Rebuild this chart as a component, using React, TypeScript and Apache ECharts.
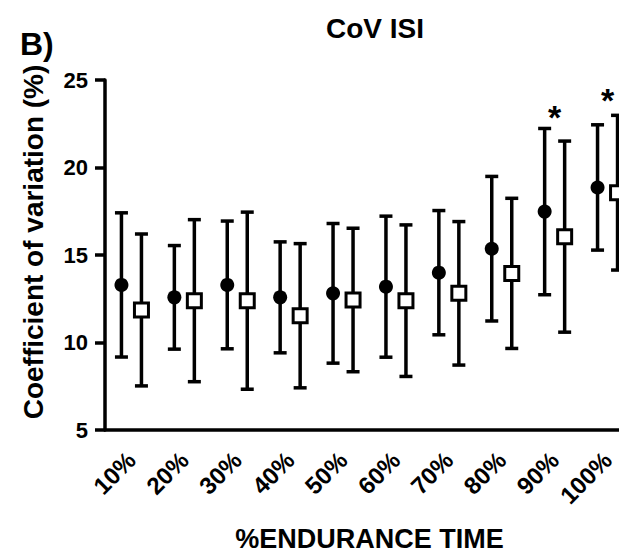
import React, { useEffect, useRef } from "react";
import * as echarts from "echarts";

const categories = ["10%", "20%", "30%", "40%", "50%", "60%", "70%", "80%", "90%", "100%"];
// filled circles: mean and SD
const meanCircle = [13.29, 12.58, 13.29, 12.58, 12.81, 13.19, 13.99, 15.36, 17.48, 18.86];
const sdCircle = [4.12, 2.96, 3.65, 3.17, 3.99, 4.03, 3.55, 4.13, 4.75, 3.58];
// open squares: mean and SD
const meanSquare = [11.86, 12.39, 12.39, 11.53, 12.43, 12.39, 12.81, 13.95, 16.05, 18.56];
const sdSquare = [4.34, 4.63, 5.06, 4.12, 4.1, 4.33, 4.1, 4.29, 5.46, 4.42];
// significance markers
const sigCategories = ["90%", "100%"];
const sigLevels = [23.3, 24.3];
const yTicks = [5, 10, 15, 20, 25];

const FONT = "'Liberation Sans', Arial, Helvetica, sans-serif";

function makeErrorSeries(means: number[], sds: number[], offset: number, kind: "circle" | "square") {
  return {
    type: "custom",
    data: categories.map((_, i) => [i, means[i], sds[i]]),
    encode: { x: 0, y: 1 },
    renderItem: (params: any, api: any) => {
      const idx = api.value(0);
      const m = api.value(1);
      const sd = api.value(2);
      const c = api.coord([idx, m]);
      const t = api.coord([idx, m + sd]);
      const b = api.coord([idx, m - sd]);
      const x = c[0] + offset;
      const lw = 3.5;
      const cap = 6.5;
      const ls = { stroke: "#000", lineWidth: lw };
      const marker =
        kind === "circle"
          ? { type: "circle", shape: { cx: x, cy: c[1], r: 7 }, style: { fill: "#000" } }
          : {
              type: "rect",
              shape: { x: x - 7, y: c[1] - 7, width: 14, height: 14 },
              style: { fill: "#fff", stroke: "#000", lineWidth: 3 },
            };
      return {
        type: "group",
        children: [
          { type: "line", shape: { x1: x, y1: t[1], x2: x, y2: b[1] }, style: ls },
          { type: "line", shape: { x1: x - cap, y1: t[1], x2: x + cap, y2: t[1] }, style: ls },
          { type: "line", shape: { x1: x - cap, y1: b[1], x2: x + cap, y2: b[1] }, style: ls },
          marker,
        ],
      };
    },
    z: kind === "circle" ? 3 : 4,
  };
}

export default function App() {
  const ref = useRef<HTMLDivElement>(null);
  useEffect(() => {
    document.body.style.margin = "0";
    if (!ref.current) return;
    const chart = echarts.init(ref.current, undefined, { renderer: "svg" });
    const option: any = {
      animation: false,
      backgroundColor: "#fff",
      title: {
        text: "CoV ISI",
        left: 370,
        top: 9,
        textAlign: "center",
        textStyle: { fontFamily: FONT, fontSize: 28, fontWeight: "bold", color: "#000" },
      },
      graphic: [
        {
          type: "text",
          left: 20,
          top: 28,
          style: { text: "B)", fontFamily: FONT, fontSize: 32, fontWeight: "bold", fill: "#000" },
        },
      ],
      grid: {
        left: 105,
        right: -15,
        top: 80,
        bottom: 128,
        containLabel: false,
        outerBoundsMode: "none",
      },
      xAxis: {
        type: "category",
        data: categories,
        boundaryGap: true,
        name: "%ENDURANCE TIME",
        nameLocation: "middle",
        nameGap: 95,
        nameTextStyle: { fontFamily: FONT, fontSize: 27, fontWeight: "bold", color: "#000" },
        axisLine: { lineStyle: { color: "#000", width: 3.5 } },
        axisTick: { alignWithLabel: true, length: 9, lineStyle: { color: "#000", width: 3.5 } },
        axisLabel: {
          rotate: 45,
          margin: 26,
          interval: 0,
          fontFamily: FONT,
          fontSize: 24,
          fontWeight: "bold",
          color: "#000",
        },
        splitLine: { show: false },
      },
      yAxis: {
        type: "value",
        min: yTicks[0],
        max: yTicks[yTicks.length - 1],
        interval: 5,
        name: "Coefficient of variation (%)",
        nameLocation: "middle",
        nameGap: 58,
        nameTextStyle: {
          fontFamily: FONT,
          fontSize: 28,
          fontWeight: "bold",
          color: "#000",
          padding: [0, 0, 0, 26],
        },
        axisLine: { show: true, lineStyle: { color: "#000", width: 3.5 } },
        axisTick: { show: true, length: 10, lineStyle: { color: "#000", width: 3.5 } },
        axisLabel: { margin: 17, fontFamily: FONT, fontSize: 22, fontWeight: "bold", color: "#000" },
        splitLine: { show: false },
      },
      series: [
        makeErrorSeries(meanCircle, sdCircle, -10, "circle"),
        makeErrorSeries(meanSquare, sdSquare, 10, "square"),
        {
          type: "custom",
          data: sigCategories.map((c, i) => [categories.indexOf(c), sigLevels[i]]),
          encode: { x: 0, y: 1 },
          renderItem: (params: any, api: any) => {
            const p = api.coord([api.value(0), api.value(1)]);
            return {
              type: "text",
              x: p[0],
              y: p[1] + 7.5,
              style: {
                text: "*",
                fontFamily: FONT,
                fontSize: 34,
                fontWeight: "bold",
                fill: "#000",
                align: "center",
                verticalAlign: "middle",
              },
            };
          },
          z: 5,
        },
      ],
    };
    chart.setOption(option);
    return () => chart.dispose();
  }, []);
  return <div ref={ref} style={{ width: 619, height: 558 }} />;
}
